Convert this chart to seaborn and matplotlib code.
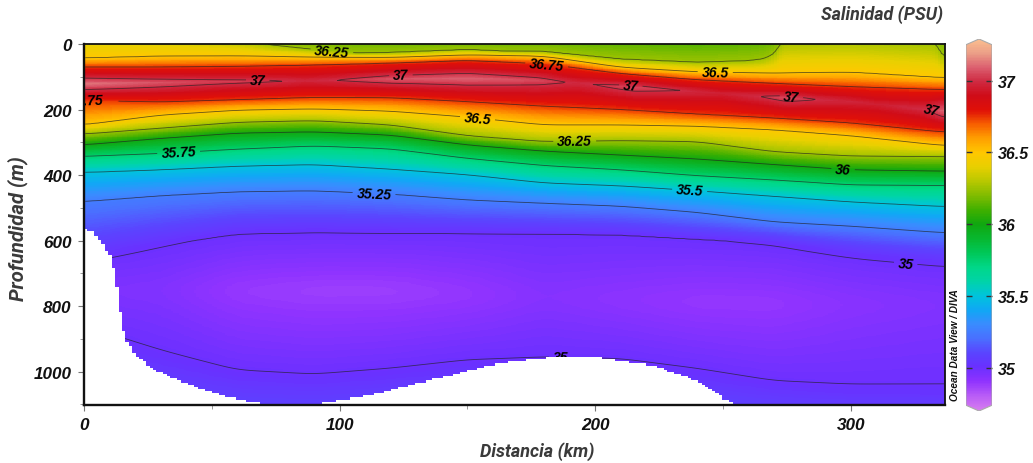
import numpy as np
import pandas as pd
import matplotlib
matplotlib.use("Agg")
import matplotlib.pyplot as plt
import matplotlib.ticker as mticker
from matplotlib.patches import PathPatch
from matplotlib.path import Path
from matplotlib.transforms import Affine2D
import seaborn as sns

# section stations (km) and depth (m) of each salinity isoline at those stations
station_km = [0, 30, 60, 90, 120, 150, 180, 210, 240, 270, 300, 336]

upper_3650 = [43, 37, 36, 40, 41, 33, 37, 71, 85, 89, 86, 103]
upper_3675 = [70, 70, 68, 64, 58, 50, 60, 90, 109, 120, 130, 139]
core_depth = [122, 118, 114, 112, 107, 105, 112, 130, 145, 163, 175, 205]
lower_3675 = [172, 177, 170, 163, 164, 176, 190, 200, 214, 226, 241, 269]
lower_3650 = [247, 217, 202, 198, 205, 223, 247, 247, 251, 262, 280, 310]
lower_3625 = [275, 257, 239, 234, 247, 280, 298, 295, 298, 329, 342, 344]
lower_3600 = [308, 288, 272, 268, 278, 308, 327, 339, 351, 368, 384, 388]
lower_3575 = [343, 334, 321, 311, 320, 349, 371, 384, 402, 415, 430, 432]
lower_3550 = [392, 384, 373, 368, 382, 399, 424, 433, 448, 465, 482, 496]
lower_3525 = [481, 463, 451, 448, 458, 476, 486, 495, 514, 543, 556, 576]
upper_3500 = [660, 615, 580, 576, 578, 579, 580, 583, 596, 608, 640, 665]
min_depth = [750, 750, 750, 750, 750, 760, 770, 780, 785, 790, 790, 790]
min_sal = [34.95, 34.94, 34.885, 34.87, 34.87, 34.89, 34.93, 34.91, 34.89, 34.89, 34.92, 34.94]
lower_3500 = [860, 939, 1000, 1013, 993, 966, 960, 963, 994, 1035, 1050, 1052]
top_3600 = [-200, -150, -100, -80, -60, -50, -60, -70, -62, -80, -150, -150]

# the near-surface 36.25 line needs a finer x than the stations
top_km = [0, 30, 60, 73, 90, 107, 120, 150, 165, 180, 210, 240, 260, 266, 270, 272, 274, 300, 333, 336]
top_3625 = [-60, -40, -15, 3, 17, 28, 26, 17, 22, 23, 46, 56, 51, 45, 30, 5, -10, -15, -3, 37]

# salinity along the core of the maximum
core_km = [0, 25, 50, 68, 80, 86, 98, 120, 150, 178, 189, 194, 199, 215, 234, 250, 264,
           275, 287, 310, 330, 336]
core_sal = [37.13, 37.08, 37.04, 37.02, 37.0, 36.98, 37.0, 37.07, 37.1, 37.05, 37.0, 36.985,
            37.0, 37.05, 37.0, 36.96, 37.0, 37.05, 37.0, 36.96, 37.0, 37.1]

# seabed
bottom_km = [0, 3, 6.3, 10, 12.5, 14.3, 16, 19.3, 25.8, 32.4, 39, 49.3, 59.7, 69, 91,
             101.7, 114.8, 130.4, 143.4, 156.5, 167, 183.6, 199, 210, 222.8, 235.7,
             243, 250, 255.6, 258]
bottom_depth = [565, 575, 607, 652, 754, 866, 907, 947, 988, 1014, 1034, 1064, 1085,
                1097, 1097, 1085, 1066, 1034, 1011, 983, 970, 956, 956, 968, 983, 1019,
                1044, 1085, 1102, 1110]

levels = [35, 35.25, 35.5, 35.75, 36, 36.25, 36.5, 36.75, 37]
cbar_ticks = [35, 35.5, 36, 36.5, 37]

# colour bar read every 0.1 from 34.7 to 37.3
bar_colors = [
    "#d67cf0", "#b85cf7", "#9033ff", "#6a30ff", "#5a45ff", "#4a70ff", "#3a8cff",
    "#10a8f5", "#00c4dc", "#00d4a8", "#00d888", "#00c858", "#08b830", "#10a810",
    "#40b000", "#80bc00", "#b8c800", "#e8d000", "#ffc800", "#ffa000", "#f86000",
    "#e01008", "#d00c18", "#cf2a42", "#dc6070", "#eca088", "#fcc090",
]

# (km, depth) next to each contour label
label_spots = [
    (97, 22), (68, 103), (124, 94), (181, 62), (214, 120), (247, 85), (277, 148),
    (332, 180), (154, 224), (37, 328), (192, 298), (113.5, 456), (237, 445),
    (297, 385), (321.5, 671), (186.5, 954),
]

sns.set_theme(style="ticks")
plt.rcParams.update({
    "font.family": ["Liberation Sans", "DejaVu Sans"],
    "font.weight": "bold",
    "font.style": "italic",
    "axes.unicode_minus": False,
})

VMIN, VMAX = 34.7, 37.3
DX, DZ = 1.0, 2.5


def smooth(values, width):
    kernel = np.hanning(width + 2)[1:-1]
    kernel = kernel / kernel.sum()
    padded = np.pad(values, width, mode="edge")
    return np.convolve(padded, kernel, mode="same")[width:-width]


def build_section():
    xs = np.arange(DX / 2, 337, DX)
    zs = np.arange(DZ / 2, 1105, DZ)

    def along(arr, width=21):
        return smooth(np.interp(xs, station_km, arr), width)

    rows = [
        (along(top_3600), 36.0),
        (smooth(np.interp(xs, top_km, top_3625), 3), 36.25),
        (along(upper_3650), 36.5),
        (along(upper_3675), 36.75),
        (along(core_depth), smooth(np.interp(xs, core_km, core_sal), 3)),
        (along(lower_3675), 36.75),
        (along(lower_3650), 36.5),
        (along(lower_3625), 36.25),
        (along(lower_3600), 36.0),
        (along(lower_3575), 35.75),
        (along(lower_3550), 35.5),
        (along(lower_3525), 35.25),
        (along(upper_3500), 35.0),
        (along(min_depth), along(min_sal)),
        (along(lower_3500), 35.0),
        (np.full_like(xs, 1150.0), 35.13),
    ]
    knots_z = np.maximum.accumulate(np.array([r[0] for r in rows]), axis=0)
    knots_s = np.array([np.broadcast_to(r[1], xs.shape) for r in rows])

    field = np.zeros((len(zs), len(xs)))
    for j in range(len(xs)):
        profile = np.interp(zs, knots_z[:, j] + np.arange(len(rows)) * 1e-3, knots_s[:, j])
        # round off the sharp salinity minimum at depth
        deep = np.clip((zs - 600) / 60, 0, 1)
        field[:, j] = (1 - deep) * profile + deep * smooth(profile, 45)
    return xs, zs, field


xs, zs, field = build_section()
cmap = sns.blend_palette(bar_colors, n_colors=256, as_cmap=True)

fig = plt.figure(figsize=(10.33, 4.64), dpi=100)
W, H = 1033.0, 464.0
ax = fig.add_axes([84 / W, 1 - 406 / H, (945 - 84) / W, (406 - 45) / H])

df = pd.DataFrame(field, index=zs, columns=xs)
sns.heatmap(df, ax=ax, cmap=cmap, vmin=VMIN, vmax=VMAX, cbar=False,
            xticklabels=False, yticklabels=False, rasterized=True)
# heatmap draws in cell indices, put it back on km / m
ax.collections[0].set_transform(Affine2D().scale(DX, DZ) + ax.transData)
ax.set_xlim(0, 336.9)
ax.set_ylim(1102, 0)
ax.set_xlabel("")
ax.set_ylabel("")

# gap for the label cut by the left axis
line_field = field.copy()
line_field[(zs > 150) & (zs < 192), :] = np.where(
    xs[None, :] < 13, np.nan, line_field[(zs > 150) & (zs < 192), :])
cs = ax.contour(xs, zs, line_field, levels=levels, colors="#222222",
                linewidths=0.6, alpha=0.7, zorder=2)
labels = ax.clabel(cs, manual=label_spots, fmt=lambda v: f"{v:g}", fontsize=10,
                   inline=True, inline_spacing=4, colors="black", zorder=3)
for lab in labels:
    lab.set_alpha(1)
labels[7].set_position((331.5, 201))
labels[7].set_rotation(-12)
ax.text(1, 172, "36.75", ha="center", va="center", fontsize=10, color="black",
        rotation=2, clip_on=True, zorder=3)

# stair-stepped seabed like the gridded original
step_x = np.arange(0, 262, 1.35)
step_z = np.round(np.interp(step_x, bottom_km, bottom_depth) / 6.5) * 6.5
ax.fill_between(step_x, step_z, 1110, step="post", color="white", lw=0, zorder=5)

ax.set_xticks([0, 100, 200, 300])
ax.set_xticklabels(["0", "100", "200", "300"])
ax.set_yticks([0, 200, 400, 600, 800, 1000])
ax.set_yticklabels(["0", "200", "400", "600", "800", "1000"])
ax.xaxis.set_minor_locator(mticker.FixedLocator([50, 150, 250]))
ax.yaxis.set_minor_locator(mticker.FixedLocator([100, 300, 500, 700, 900, 1100]))
ax.tick_params(axis="both", which="major", length=4, width=0.8, color="#777777",
               labelsize=12.3, labelcolor="#111111", pad=5)
ax.tick_params(axis="both", which="minor", length=3, width=0.7, color="#999999")
sns.despine(ax=ax, top=False, right=False)
for side, spine in ax.spines.items():
    spine.set_visible(True)
    spine.set_color("#111111")
    spine.set_linewidth(1.7 if side in ("left", "bottom") else 1.3)
    spine.set_zorder(6)

# colour bar with pointed ends
cax = fig.add_axes([966 / W, 1 - 412 / H, 26 / W, 372 / H])
bar_vals = np.linspace(VMAX, VMIN, 400)[:, None]
shape = Path([(0, 34.74), (0.5, 34.70), (1, 34.74), (1, 37.25), (0.5, 37.29), (0, 37.25), (0, 34.74)])
bar_img = cax.imshow(bar_vals, aspect="auto", cmap=cmap, vmin=VMIN, vmax=VMAX,
                     extent=[0, 1, VMIN, VMAX], interpolation="bilinear")
outline = PathPatch(shape, facecolor="none", edgecolor="#aaaaaa", lw=0.8, transform=cax.transData)
cax.add_patch(outline)
bar_img.set_clip_path(outline)
cax.set_xlim(0, 1)
cax.set_ylim(34.70, 37.29)
cax.set_xticks([])
cax.set_yticks(cbar_ticks)
cax.set_yticklabels([f"{v:g}" for v in cbar_ticks])
cax.yaxis.tick_right()
cax.tick_params(axis="y", direction="in", left=True, right=True, length=4.5, width=1,
                color="#333333", labelsize=11.5, pad=4.5, labelcolor="#111111")
for spine in cax.spines.values():
    spine.set_visible(False)

title_font = {"family": ["Roboto", "DejaVu Sans"], "weight": "bold", "style": "italic",
              "color": "#3a3a3a"}
fig.text(882 / W, 1 - 15 / H, "Salinidad (PSU)", ha="center", va="center", fontsize=12.9, **title_font)
fig.text(537 / W, 1 - 452 / H, "Distancia (km)", ha="center", va="center", fontsize=13, **title_font)
fig.text(18 / W, 1 - 229 / H, "Profundidad (m)", ha="center", va="center", rotation=90, fontsize=14.6, **title_font)
fig.text(955 / W, 1 - 345 / H, "Ocean Data View / DIVA", ha="center", va="center", rotation=90,
         fontsize=7.2, color="#111111", weight="bold")

fig.savefig("out.png", dpi=100, facecolor="white")
plt.close(fig)
